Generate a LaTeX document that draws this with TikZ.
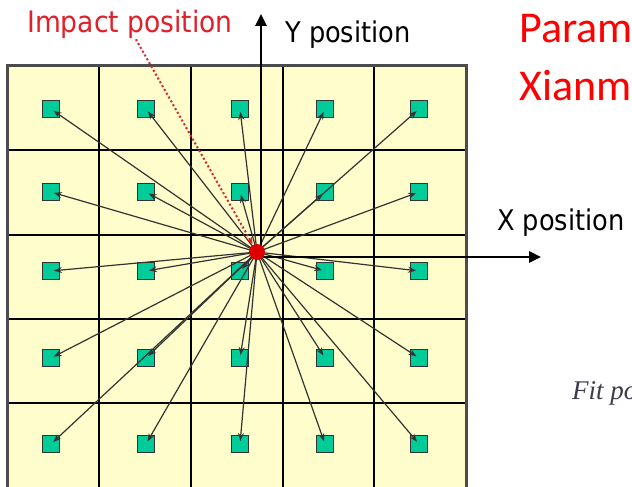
\documentclass[tikz,border=0pt]{standalone}
\usepackage{fontspec}
\usepackage{xcolor}
\usepackage{tikz}
\usetikzlibrary{arrows.meta, positioning}
\newfontfamily\labelfont[FakeStretch=0.9]{DejaVu Sans}
\newfontfamily\titlefont{Carlito}
\newfontfamily\capfont{Liberation Serif}
\definecolor{cellyellow}{HTML}{FFFDCB}
\definecolor{padgreen}{HTML}{00CC99}
\definecolor{impactred}{HTML}{E0202A}
\definecolor{dotred}{HTML}{DD0000}
\definecolor{capgray}{HTML}{3C3C4B}

\tikzset{
  pad/.style={draw=black!80, fill=padgreen, line width=0.8pt, minimum size=17pt, inner sep=0pt},
  ray/.style={draw=black!80, line width=1.2pt, -{Stealth[length=8pt,width=6pt]}, shorten >=3pt},
  axis/.style={draw=black, line width=2.6pt, -{Triangle[length=12pt,width=11pt]}},
  axislabel/.style={font=\labelfont\fontsize{28.5}{30}\selectfont, anchor=base west, inner sep=0pt},
  titletext/.style={font=\titlefont\fontsize{44}{46}\selectfont, text=red, anchor=base west, inner sep=0pt},
}

\begin{document}
\begin{tikzpicture}[x=1pt, y=-1pt]
\useasboundingbox (0,0) rectangle (632,487);
\clip (0,0) rectangle (632,487);
\fill[white] (0,0) rectangle (632,487);
\fill[cellyellow] (7,66) rectangle (466,492);
\foreach \x in {99,191,283,374} \draw[black, line width=2.2pt] (\x,66) -- (\x,492);
\foreach \y in {150,235,319,403} \draw[black, line width=2.2pt] (7,\y) -- (466,\y);
\draw[black!70, line width=3pt] (7,492) -- (7,66) -- (466,66) -- (466,492);
\foreach \r/\y in {1/109, 2/192, 3/271, 4/358, 5/444}
  \foreach \c/\x in {1/51, 2/146, 3/240, 4/325, 5/419}
    \node[pad] (sq-\r-\c) at (\x,\y) {};
\coordinate (hit) at (257,252);
\coordinate (origin) at (261,257);
\foreach \r in {1,...,5}
  \foreach \c in {1,...,5}
    \draw[ray] (hit) -- (sq-\r-\c.center);
\coordinate (ytip) at (261,14);
\coordinate (xtip) at (541,257);
\draw[axis] (origin) -- (ytip);
\draw[axis] (origin) -- (xtip);
\node[circle, fill=dotred, minimum size=16pt, inner sep=0pt] (impact) at (hit) {};
\node[font=\labelfont\fontsize{29.5}{31}\selectfont, text=impactred, anchor=base west, inner sep=0pt]
  (impactlbl) at (27,33) {Impact position};
\draw[impactred, line width=2pt, dash pattern=on 2pt off 2.4pt, -{Stealth[length=7pt,width=6pt]}, shorten >=9pt]
  ([xshift=6pt]impactlbl.south) -- (impact.center);
\node[axislabel] (ylbl) at (285,43) {Y position};
\node[axislabel] (xlbl) at (497,230) {X position};
\node[titletext] (title1) at (519,43) {Param};
\node[titletext] (title2) at (519,100) {Xianm};
\node[font=\capfont\itshape\fontsize{27}{28}\selectfont, text=capgray, anchor=base west, inner sep=0pt]
  (caption) at (572,399) {Fit po};
\end{tikzpicture}
\end{document}
